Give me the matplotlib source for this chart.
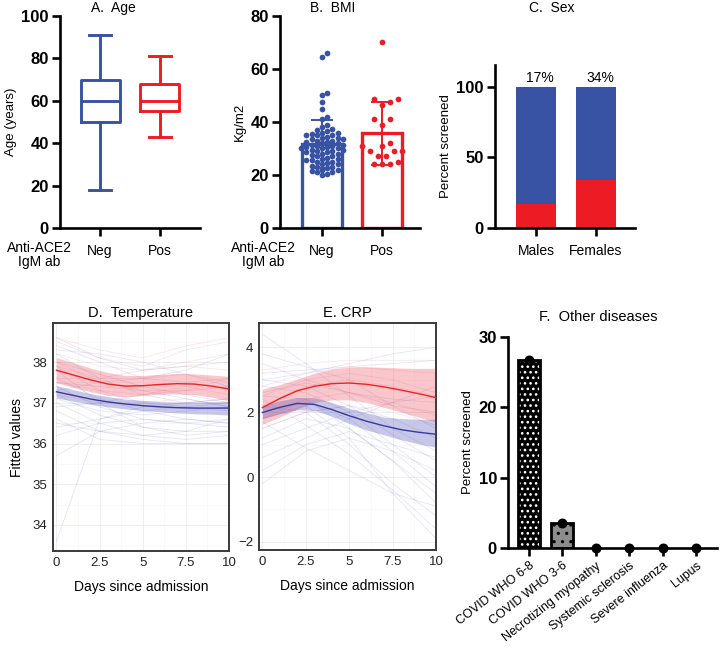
import numpy as np
import matplotlib
matplotlib.use('Agg')
import matplotlib.pyplot as plt
from matplotlib.ticker import MultipleLocator

plt.rcParams['font.family'] = ['Liberation Sans', 'DejaVu Sans']
plt.rcParams['hatch.linewidth'] = 1.1

BLUE = '#3953a4'
RED = '#ed1c24'

# ---------------- data ----------------
# A. Age  (whislo, q1, median, q3, whishi)
groups = ['Neg', 'Pos']
age_neg = [18, 50, 60, 70, 91]
age_pos = [43, 55, 60, 68, 81]

# B. BMI individual values
bmi_neg = [66, 64.5, 51, 50, 47.5, 45, 42, 41,
           39, 38, 37.5, 37, 36.5, 36, 36, 35.5, 35, 35, 35,
           34.5, 34, 34, 33.5, 33.5, 33, 33, 32.5, 32.5, 32, 32, 31.5, 31.5, 31, 31,
           30.5, 30.5, 30, 30, 30,
           29.5, 29.5, 29, 29, 28.5, 28.5, 28, 28, 27.5, 27, 27, 26.5, 26, 26,
           25.5, 25.5, 25, 25,
           24.5, 24, 24, 23.5, 23, 23, 22.5, 22, 22, 21.5, 21, 21, 20.5, 20]
bmi_pos = [70, 48.5, 48.5, 47.5, 46.5, 41, 41, 39, 32, 31, 31, 29, 29, 29,
           27, 27, 25, 24, 24, 24]

# C. Sex
sex_cats = ['Males', 'Females']
sex_total = [100, 100]
sex_pos = [17, 34]
sex_labels = ['17%', '34%']

# D. Temperature (fitted)
days = [0, 1, 2, 3, 4, 5, 6, 7, 8, 9, 10]
temp_red_mean = [37.80, 37.68, 37.56, 37.46, 37.41, 37.42, 37.45, 37.47, 37.46, 37.41, 37.34]
temp_red_lo = [37.49, 37.38, 37.27, 37.18, 37.15, 37.18, 37.21, 37.22, 37.20, 37.14, 37.05]
temp_red_hi = [38.11, 37.98, 37.85, 37.74, 37.67, 37.67, 37.70, 37.72, 37.71, 37.68, 37.65]
temp_blue_mean = [37.27, 37.18, 37.09, 37.02, 36.97, 36.93, 36.90, 36.88, 36.87, 36.87, 36.87]
temp_blue_lo = [37.12, 37.04, 36.96, 36.90, 36.85, 36.81, 36.78, 36.75, 36.73, 36.72, 36.70]
temp_blue_hi = [37.42, 37.32, 37.22, 37.15, 37.09, 37.06, 37.03, 37.02, 37.02, 37.03, 37.04]

days_pt = [0, 2.5, 5, 7.5, 10]
temp_blue_lines = [
    [38.4, 38.0, 37.6, 37.5, 37.6], [38.2, 37.6, 37.2, 37.0, 37.1],
    [37.9, 37.3, 37.0, 36.9, 36.8], [37.6, 37.1, 36.8, 36.6, 36.5],
    [37.4, 36.9, 36.6, 36.5, 36.6], [37.2, 36.7, 36.4, 36.3, 36.3],
    [37.0, 36.5, 36.2, 36.1, 36.2], [36.8, 36.3, 36.1, 36.0, 36.0],
    [36.6, 36.1, 36.0, 36.0, 36.0], [36.4, 36.6, 36.8, 36.9, 37.0],
    [36.2, 36.5, 36.6, 36.5, 36.4], [35.7, 36.3, 36.5, 36.6, 36.5],
    [33.6, 36.6, 36.9, 37.0, 37.1], [38.6, 38.1, 37.8, 37.9, 38.0],
    [38.0, 37.7, 37.4, 37.2, 37.0], [37.5, 37.4, 37.3, 37.1, 36.9],
    [36.9, 37.0, 37.2, 37.3, 37.4], [37.3, 37.5, 37.6, 37.8, 38.2],
    [36.5, 36.3, 36.2, 36.3, 36.6], [37.8, 37.0, 36.4, 36.2, 36.3],
    [38.3, 38.2, 38.0, 37.7, 37.4], [37.1, 36.8, 36.7, 36.8, 36.9],
]
temp_red_lines = [
    [38.5, 38.1, 37.9, 38.3, 38.5], [38.2, 37.9, 37.8, 38.0, 38.2],
    [37.9, 37.6, 37.6, 37.7, 37.5], [37.5, 37.3, 37.2, 37.4, 37.2],
    [37.2, 37.0, 37.0, 37.1, 36.9], [38.0, 37.5, 37.3, 37.3, 37.6],
    [37.6, 37.6, 37.8, 37.9, 37.8], [38.6, 38.3, 38.1, 38.4, 38.6],
]

# E. CRP (fitted)
crp_red_mean = [2.14, 2.42, 2.66, 2.80, 2.88, 2.90, 2.86, 2.78, 2.68, 2.57, 2.45]
crp_red_lo = [1.63, 1.85, 2.10, 2.30, 2.38, 2.38, 2.30, 2.15, 2.00, 1.85, 1.70]
crp_red_hi = [2.71, 2.85, 3.02, 3.20, 3.33, 3.39, 3.40, 3.38, 3.36, 3.35, 3.35]
crp_blue_mean = [1.99, 2.15, 2.27, 2.24, 2.08, 1.89, 1.72, 1.58, 1.46, 1.38, 1.32]
crp_blue_lo = [1.80, 1.95, 2.08, 2.05, 1.88, 1.65, 1.45, 1.30, 1.15, 1.02, 0.92]
crp_blue_hi = [2.20, 2.35, 2.45, 2.44, 2.30, 2.12, 1.98, 1.85, 1.80, 1.78, 1.78]
crp_blue_lines = [
    [4.4, 3.5, 2.5, 1.5, 0.8], [3.8, 3.4, 3.0, 2.2, 1.5], [3.2, 3.3, 3.4, 3.5, 3.6],
    [3.0, 3.2, 3.5, 3.8, 4.0], [2.8, 2.6, 2.0, 1.0, 0.0], [2.5, 2.4, 1.5, 0.5, -0.8],
    [2.2, 2.0, 1.0, -0.2, -1.2], [2.0, 2.3, 1.8, 0.8, -0.3], [1.8, 2.2, 1.2, -0.5, -1.9],
    [1.5, 2.0, 2.2, 1.8, 1.2], [1.2, 1.8, 1.5, 0.5, -0.5], [1.0, 1.5, 2.0, 2.3, 2.5],
    [0.6, 1.2, 1.8, 2.3, 2.8], [0.2, 1.0, 1.4, 1.0, 0.6], [-0.2, 0.8, 1.2, 0.8, 0.2],
    [2.6, 2.9, 2.6, 2.2, 2.0], [3.5, 3.0, 2.6, 2.4, 2.3], [1.7, 0.9, 0.2, -0.5, -0.9],
    [2.4, 1.6, 0.7, -0.4, -1.6], [3.0, 2.8, 2.2, 1.3, 0.5],
]
crp_red_lines = [
    [3.3, 3.5, 3.6, 3.6, 3.6], [2.8, 3.2, 3.4, 3.3, 3.2], [2.2, 2.8, 3.0, 2.8, 2.5],
    [1.8, 2.4, 2.6, 2.3, 1.9], [1.5, 2.0, 2.2, 2.0, 1.6], [2.5, 3.0, 3.2, 3.0, 2.6],
]

# F. Other diseases
dis_cats = ['COVID WHO 6-8', 'COVID WHO 3-6', 'Necrotizing myopathy',
            'Systemic sclerosis', 'Severe influenza', 'Lupus']
dis_vals = [26.8, 3.6, 0, 0, 0, 0]

# ---------------- figure ----------------
W, H = 720, 650
fig = plt.figure(figsize=(7.2, 6.5), dpi=100)


def px_axes(l, t, r, b):
    return fig.add_axes([l / W, 1 - b / H, (r - l) / W, (b - t) / H])


def fig_text(x, y, s, **kw):
    kw.setdefault('ha', 'center')
    kw.setdefault('va', 'center')
    fig.text(x / W, 1 - y / H, s, **kw)


def gp_style(ax):
    for s in ['top', 'right']:
        ax.spines[s].set_visible(False)
    for s in ['left', 'bottom']:
        ax.spines[s].set_linewidth(1.9)
    ax.tick_params(width=1.9, length=5.5, labelsize=10, pad=2.5)
    ax.tick_params(axis='x', labelsize=10, pad=6)
    plt.setp(ax.get_yticklabels(), fontweight='bold', fontsize=12)


def gg_style(ax):
    for s in ax.spines.values():
        s.set_color('#3a3a3a')
        s.set_linewidth(1.4)
    ax.grid(True, which='major', color='#ebebeb', lw=0.6)
    ax.grid(True, which='minor', color='#f5f5f5', lw=0.4)
    ax.set_axisbelow(True)
    ax.tick_params(which='both', length=0, labelsize=9.5, colors='#222222', pad=4)
    ax.xaxis.set_major_locator(MultipleLocator(2.5))
    ax.xaxis.set_minor_locator(MultipleLocator(1.25))


# ---- A ----
axA = px_axes(60, 16, 200, 228)
for pos, st, col in [(0, age_neg, BLUE), (1, age_pos, RED)]:
    stats = [dict(whislo=st[0], q1=st[1], med=st[2], q3=st[3], whishi=st[4], fliers=[])]
    lp = dict(color=col, linewidth=2.1)
    axA.bxp(stats, positions=[pos], widths=0.65, capwidths=0.38, showfliers=False,
            boxprops=lp, whiskerprops=lp, capprops=lp, medianprops=lp)
axA.set_xlim(-0.67, 1.67)
axA.set_ylim(0, 100)
axA.set_yticks([0, 20, 40, 60, 80, 100])
axA.set_xticks([0, 1])
axA.set_xticklabels(groups)
gp_style(axA)
axA.set_ylabel('Age (years)', fontsize=9.5, labelpad=3)
fig_text(113, 8, 'A.  Age', fontsize=10)


# ---- B ----
def swarm_offsets(vals, ypx, xpx, diam):
    vals = np.asarray(vals, float)
    order = np.argsort(vals)
    placed = []
    offs = np.zeros(len(vals))
    step = diam * 0.5
    for i in order:
        y = vals[i] * ypx
        cands = [0.0]
        for k in range(1, 40):
            cands += [k * step, -k * step]
        for c in cands:
            ok = True
            for (px, py) in placed:
                if (px - c) ** 2 + (py - y) ** 2 < diam ** 2:
                    ok = False
                    break
            if ok:
                offs[i] = c
                placed.append((c, y))
                break
    return offs / xpx


axB = px_axes(280, 16, 420, 228)
means = [np.mean(bmi_neg), np.mean(bmi_pos)]
sds = [np.std(bmi_neg, ddof=1), np.std(bmi_pos, ddof=1)]
axB.bar([0, 1], means, width=0.67, facecolor='white', edgecolor=[BLUE, RED],
        linewidth=2.4, zorder=1)
ypx = 212 / 80
for pos, vals, col, d in [(0, bmi_neg, BLUE, 5.2), (1, bmi_pos, RED, 8.0)]:
    off = swarm_offsets(vals, ypx, 60, d)
    axB.scatter(pos + off, vals, s=17, color=col, lw=0, zorder=3)
for pos, m, s, col in zip([0, 1], means, sds, [BLUE, RED]):
    axB.errorbar(pos, m, yerr=s, color=col, lw=1.4, capsize=8, capthick=1.4, zorder=4)
axB.set_xlim(-0.7, 1.63)
axB.set_ylim(0, 80)
axB.set_yticks([0, 20, 40, 60, 80])
axB.set_xticks([0, 1])
axB.set_xticklabels(groups)
gp_style(axB)
axB.set_ylabel('Kg/m2', fontsize=9.5, labelpad=3)
fig_text(333, 8, 'B.  BMI', fontsize=10)

for xc in [39, 263]:
    fig_text(xc, 248, 'Anti-ACE2', fontsize=10)
    fig_text(xc, 262, 'IgM ab', fontsize=10)

# ---- C ----
axC = px_axes(495, 65, 635, 228)
axC.bar([0, 1], sex_total, width=0.67, color=BLUE, zorder=1)
axC.bar([0, 1], sex_pos, width=0.67, color=RED, zorder=2)
for x, t in zip([0, 1], sex_labels):
    axC.text(x + 0.07, 101.3, t, ha='center', va='bottom', fontsize=10)
axC.set_xlim(-0.683, 1.65)
axC.set_ylim(0, 115.6)
axC.set_yticks([0, 50, 100])
axC.set_xticks([0, 1])
axC.set_xticklabels(sex_cats)
gp_style(axC)
axC.set_ylabel('Percent screened', fontsize=9.5, labelpad=3)
fig_text(552, 8, 'C.  Sex', fontsize=10)

# ---- D ----
axD = px_axes(53, 323, 229, 551)
gg_style(axD)
for row in temp_blue_lines:
    axD.plot(days_pt, row, color='#5b5bc8', alpha=0.16, lw=0.6, zorder=1)
for row in temp_red_lines:
    axD.plot(days_pt, row, color='#f06070', alpha=0.16, lw=0.6, zorder=1)
axD.fill_between(days, temp_red_lo, temp_red_hi, color='#ee4455', alpha=0.3, lw=0, zorder=2)
axD.fill_between(days, temp_blue_lo, temp_blue_hi, color='#4848b0', alpha=0.3, lw=0, zorder=2)
axD.plot(days, temp_red_mean, color='#ee2222', lw=1.0, zorder=3)
axD.plot(days, temp_blue_mean, color='#3a3aa0', lw=1.0, zorder=3)
axD.set_xlim(-0.2, 10)
axD.set_ylim(33.36, 38.96)
axD.yaxis.set_major_locator(MultipleLocator(1))
axD.yaxis.set_minor_locator(MultipleLocator(0.5))
axD.set_xticks([0, 2.5, 5, 7.5, 10])
axD.set_xticklabels(['0', '2.5', '5', '7.5', '10'])
axD.set_xlabel('Days since admission', fontsize=10, labelpad=8)
axD.set_ylabel('Fitted values', fontsize=10, labelpad=6)
axD.set_title('D.  Temperature', fontsize=10.5, pad=4)

# ---- E ----
axE = px_axes(259, 323, 436, 550)
gg_style(axE)
for row in crp_blue_lines:
    axE.plot(days_pt, row, color='#5b5bc8', alpha=0.16, lw=0.6, zorder=1)
for row in crp_red_lines:
    axE.plot(days_pt, row, color='#f06070', alpha=0.16, lw=0.6, zorder=1)
axE.fill_between(days, crp_red_lo, crp_red_hi, color='#ee4455', alpha=0.3, lw=0, zorder=2)
axE.fill_between(days, crp_blue_lo, crp_blue_hi, color='#4848b0', alpha=0.3, lw=0, zorder=2)
axE.plot(days, crp_red_mean, color='#ee2222', lw=1.0, zorder=3)
axE.plot(days, crp_blue_mean, color='#3a3aa0', lw=1.0, zorder=3)
axE.set_xlim(-0.2, 10)
axE.set_ylim(-2.25, 4.75)
axE.yaxis.set_major_locator(MultipleLocator(2))
axE.yaxis.set_minor_locator(MultipleLocator(1))
axE.set_xticks([0, 2.5, 5, 7.5, 10])
axE.set_xticklabels(['0', '2.5', '5', '7.5', '10'])
axE.set_xlabel('Days since admission', fontsize=10, labelpad=8)
axE.set_title('E. CRP', fontsize=10.5, pad=4)

# ---- F ----
axF = px_axes(508, 337, 717, 548)
xF = np.arange(len(dis_cats))
axF.bar(xF[0], dis_vals[0], width=0.66, facecolor='black', edgecolor='white',
        hatch='...', lw=0, zorder=1)
axF.bar(xF[1], dis_vals[1], width=0.66, facecolor='#8c8c8c', edgecolor='black',
        hatch='..', lw=0, zorder=1)
axF.bar(xF[:2], dis_vals[:2], width=0.66, fill=False, edgecolor='black', lw=2, zorder=2)
axF.scatter(xF, dis_vals, s=38, color='black', zorder=5, clip_on=False)
axF.set_xlim(-0.63, 5.63)
axF.set_ylim(0, 30)
axF.set_yticks([0, 10, 20, 30])
axF.set_xticks(xF)
axF.set_xticklabels(dis_cats)
gp_style(axF)
plt.setp(axF.get_xticklabels(), rotation=38, ha='right', rotation_mode='anchor', fontsize=9)
axF.tick_params(axis='x', pad=3)
axF.set_ylabel('Percent screened', fontsize=9.5, labelpad=3)
fig_text(598, 317, 'F.  Other diseases', fontsize=10.5)

fig.savefig('out.png', dpi=100, facecolor='white')
